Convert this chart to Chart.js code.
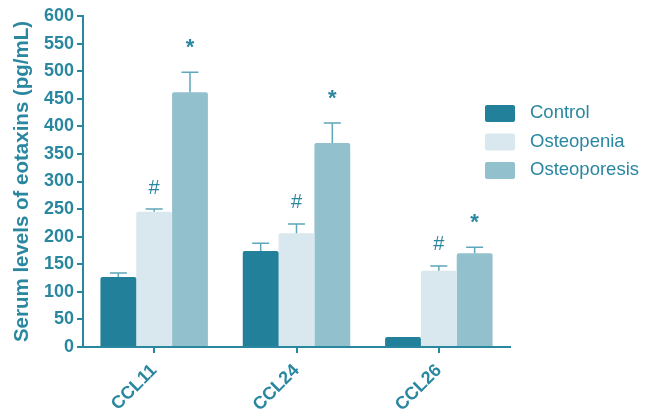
<!DOCTYPE html>
<html>
<head>
<meta charset="utf-8">
<script src="https://cdn.jsdelivr.net/npm/chart.js@4.4.0/dist/chart.umd.min.js"></script>
<style>
    html, body { margin: 0; padding: 0; background: #fff; }
    #wrap { width: 649px; height: 410px; position: relative; }
</style>
</head>
<body>
<div id="wrap"><canvas id="chart"></canvas></div>
<script>
const categories = ["CCL11", "CCL24", "CCL26"]
const seriesNames = ["Control", "Osteopenia", "Osteoporesis"]
const controlValues = [127, 174, 18]
const osteopeniaValues = [245, 206, 138]
const osteoporesisValues = [462, 370, 170]
const controlErrors = [7, 14, 0]
const osteopeniaErrors = [5, 17, 9]
const osteoporesisErrors = [36, 36, 11]
// significance marks above each bar ("" = none)
const controlMarks = ["", "", ""]
const osteopeniaMarks = ["#", "#", "#"]
const osteoporesisMarks = ["*", "*", "*"]
const yTicks = [0, 50, 100, 150, 200, 250, 300, 350, 400, 450, 500, 550, 600]

const teal = "#2a87a0"
const colors = ["#23809a", "#d9e8ee", "#93c0cd"]
const errColor = "#5ea6b9"

const seriesValues = [controlValues, osteopeniaValues, osteoporesisValues]
const seriesErrors = [controlErrors, osteopeniaErrors, osteoporesisErrors]
const seriesMarks = [controlMarks, osteopeniaMarks, osteoporesisMarks]

const errorBars = {
    id: "errorBars",
    afterDatasetsDraw(chart) {
        let ctx = chart.ctx
        let y = chart.scales.y
        ctx.save()
        chart.data.datasets.forEach((ds, i) => {
            let meta = chart.getDatasetMeta(i)
            meta.data.forEach((bar, j) => {
                let err = seriesErrors[i][j]
                let top = y.getPixelForValue(seriesValues[i][j] + err)
                if (err > 0) {
                    ctx.strokeStyle = errColor
                    ctx.lineWidth = 1.5
                    ctx.beginPath()
                    ctx.moveTo(bar.x, bar.y)
                    ctx.lineTo(bar.x, top)
                    ctx.moveTo(bar.x - 8.5, top)
                    ctx.lineTo(bar.x + 8.5, top)
                    ctx.stroke()
                }
                let mark = seriesMarks[i][j]
                if (mark) {
                    ctx.fillStyle = teal
                    ctx.textAlign = "center"
                    ctx.textBaseline = "middle"
                    ctx.font = mark === "*" ? "bold 22px 'Liberation Sans', Arial" : "20px 'Liberation Sans', Arial"
                    ctx.fillText(mark, bar.x, mark === "*" ? top - 24 : top - 21)
                }
            })
        })
        ctx.restore()
    }
}

const sideLegend = {
    id: "sideLegend",
    afterDraw(chart) {
        let ctx = chart.ctx
        ctx.save()
        seriesNames.forEach((name, i) => {
            let top = 105 + i * 28.5
            ctx.fillStyle = colors[i]
            ctx.beginPath()
            ctx.roundRect(485, top, 30, 17, 2)
            ctx.fill()
            ctx.fillStyle = teal
            ctx.font = "18.5px 'Liberation Sans', Arial"
            ctx.textAlign = "left"
            ctx.textBaseline = "middle"
            ctx.fillText(name, 530, top + 8)
        })
        ctx.restore()
    }
}

new Chart(document.getElementById("chart"), {
    type: "bar",
    data: {
        labels: categories,
        datasets: seriesNames.map((name, i) => ({
            label: name,
            data: seriesValues[i],
            backgroundColor: colors[i],
            borderRadius: 2,
            borderSkipped: "bottom",
            categoryPercentage: 0.755,
            barPercentage: 1.0
        }))
    },
    options: {
        responsive: true,
        maintainAspectRatio: false,
        animation: false,
        layout: { padding: { top: 16, right: 139, left: 10, bottom: 0 } },
        plugins: {
            legend: { display: false },
            tooltip: { enabled: false }
        },
        scales: {
            x: {
                afterFit: s => { s.height = 63 },
                border: { display: true, color: teal, width: 2 },
                grid: { display: true, offset: false, drawOnChartArea: false, drawTicks: true, tickLength: 6, color: teal, lineWidth: 2 },
                ticks: {
                    color: teal,
                    font: { family: "'Liberation Sans', Arial", size: 18, weight: "bold" },
                    minRotation: 45,
                    maxRotation: 45,
                    padding: 7
                }
            },
            y: {
                min: 0,
                max: 600,
                afterFit: s => { s.width = 73 },
                afterBuildTicks: s => { s.ticks = yTicks.map(v => ({ value: v })) },
                border: { display: true, color: teal, width: 2 },
                grid: { display: true, drawOnChartArea: false, drawTicks: true, tickLength: 6, color: teal, lineWidth: 2 },
                ticks: {
                    color: teal,
                    font: { family: "'Liberation Sans', Arial", size: 18, weight: "bold" },
                    padding: 3
                },
                title: {
                    display: true,
                    text: "Serum levels of eotaxins (pg/mL)",
                    color: teal,
                    font: { family: "'Liberation Sans', Arial", size: 20.5, weight: "bold" },
                    padding: { top: 0, bottom: 0 }
                }
            }
        }
    },
    plugins: [errorBars, sideLegend]
})
</script>
</body>
</html>
